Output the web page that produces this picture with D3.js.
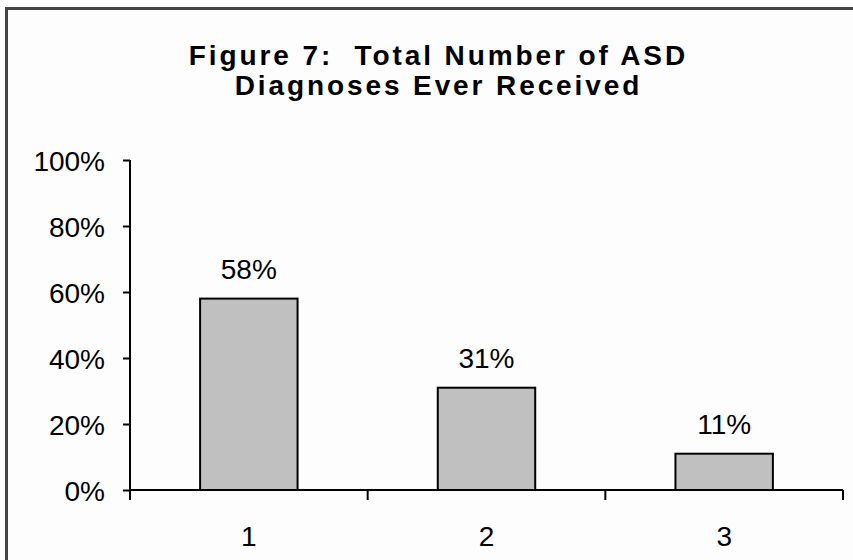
<!DOCTYPE html>
<html>
<head>
<meta charset="utf-8">
<script src="https://cdn.jsdelivr.net/npm/d3@7"></script>
<style>
  body { margin: 0; background: #fdfdfd; }
  svg { display: block; }
  .tick text { font-family: "Liberation Sans", Arial, sans-serif; }
</style>
</head>
<body>
<div class="graph"></div>
<script>
// chart data
var categories = ["1", "2", "3"];
var percents = [58, 31, 11];
var yTicks = [0, 20, 40, 60, 80, 100];
var titleLines = ["Figure 7:  Total Number of ASD", "Diagnoses Ever Received"];

var width = 853, height = 560;
var plot = {left: 130, right: 843, top: 160, bottom: 490};

var svg = d3.select(".graph")
  .append("svg")
  .attr("width", width)
  .attr("height", height);

svg.append("rect")
  .attr("width", width).attr("height", height)
  .attr("fill", "#fdfdfd");

// outer frame (only left and top show in the crop)
svg.append("path")
  .attr("d", "M6.5,560 V8.5 H853")
  .attr("fill", "none")
  .attr("stroke", "#444")
  .attr("stroke-width", 3);

// title - the original has loose letter spacing
var titleSpacing = 2.9;
svg.append("text")
  .attr("y", 65)
  .attr("text-anchor", "middle")
  .attr("font-family", "'Liberation Sans', Arial, sans-serif")
  .attr("font-weight", "bold")
  .attr("font-size", 28)
  .attr("letter-spacing", titleSpacing)
  .attr("fill", "#000")
  .selectAll("tspan")
  .data(titleLines)
  .enter()
  .append("tspan")
  .attr("x", 437 + titleSpacing / 2)
  .attr("dy", function(d, i) { return i == 0 ? 0 : 30; })
  .style("white-space", "pre")
  .text(function(d) { return d; });

var xScale = d3.scaleBand()
  .domain(categories)
  .range([plot.left, plot.right])
  .padding(0);

var yScale = d3.scaleLinear()
  .domain([0, 100])
  .range([plot.bottom, plot.top]);

var barW = xScale.bandwidth() * 0.41;

// y axis
var yAxis = d3.axisLeft(yScale)
  .tickValues(yTicks)
  .tickSize(7)
  .tickPadding(18)
  .tickFormat(function(d) { return d + "%"; });

var gy = svg.append("g")
  .attr("transform", "translate(" + plot.left + ",0)")
  .call(yAxis);
gy.select(".domain").remove();
gy.append("line")
  .attr("x1", 0).attr("x2", 0)
  .attr("y1", plot.top).attr("y2", plot.bottom + 10)
  .attr("stroke", "#000").attr("stroke-width", 2);
gy.selectAll(".tick line").attr("stroke", "#000").attr("stroke-width", 2);
gy.selectAll(".tick text")
  .attr("font-size", 28)
  .attr("fill", "#000")
  .attr("dy", "0.36em");

// bars
svg.selectAll(".bar")
  .data(percents)
  .enter()
  .append("rect")
  .attr("class", "bar")
  .attr("x", function(d, i) { return xScale(categories[i]) + (xScale.bandwidth() - barW) / 2; })
  .attr("y", function(d) { return yScale(d); })
  .attr("width", barW)
  .attr("height", function(d) { return plot.bottom - yScale(d); })
  .attr("fill", "#c0c0c0")
  .attr("stroke", "#000")
  .attr("stroke-width", 2);

// value labels
svg.selectAll(".val")
  .data(percents)
  .enter()
  .append("text")
  .attr("class", "val")
  .attr("x", function(d, i) { return xScale(categories[i]) + xScale.bandwidth() / 2; })
  .attr("y", function(d) { return yScale(d) - 20; })
  .attr("text-anchor", "middle")
  .attr("font-family", "'Liberation Sans', Arial, sans-serif")
  .attr("font-size", 28)
  .attr("fill", "#000")
  .text(function(d) { return d + "%"; });

// x axis
var xAxis = d3.axisBottom(xScale).tickSize(0).tickPadding(36);
var gx = svg.append("g")
  .attr("transform", "translate(0," + plot.bottom + ")")
  .call(xAxis);
gx.select(".domain").remove();
gx.append("line")
  .attr("x1", plot.left).attr("x2", plot.right)
  .attr("stroke", "#000").attr("stroke-width", 2);
gx.selectAll(".tick text")
  .attr("font-size", 28)
  .attr("fill", "#000");

// category boundary ticks
gx.selectAll(".sep")
  .data(categories.slice(1).concat(["end"]))
  .enter()
  .append("line")
  .attr("class", "sep")
  .attr("x1", function(d, i) { return i < 2 ? xScale(d) : plot.right; })
  .attr("x2", function(d, i) { return i < 2 ? xScale(d) : plot.right; })
  .attr("y1", 0).attr("y2", 10)
  .attr("stroke", "#000").attr("stroke-width", 2);
</script>
</body>
</html>
